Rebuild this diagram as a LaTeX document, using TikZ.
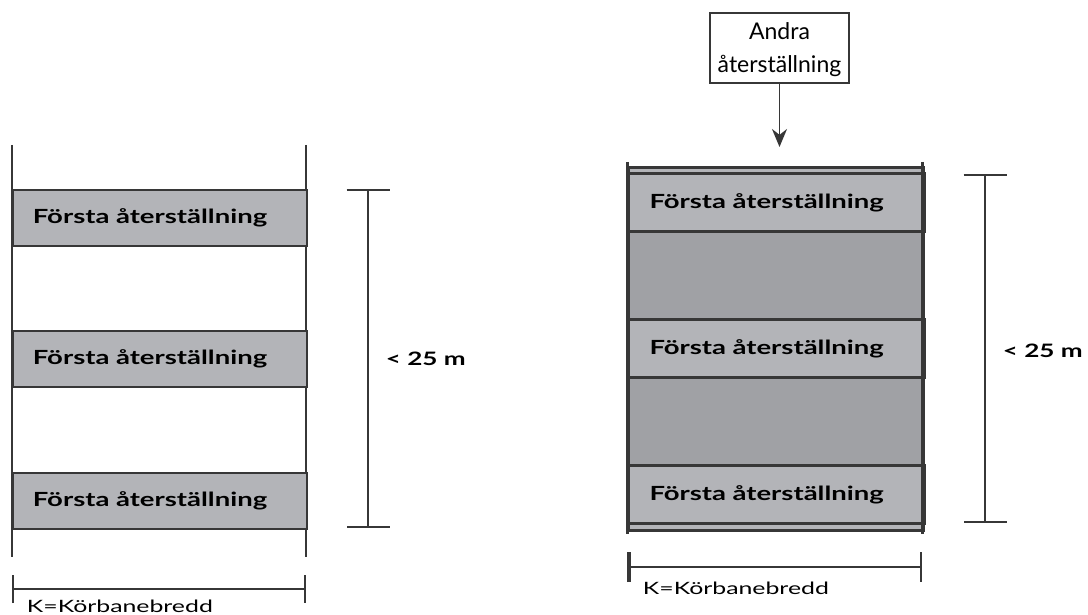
\documentclass[tikz,border=0pt]{standalone}
\usepackage{fontspec}
\setmainfont{Lato}
\newfontfamily\bandfont[FakeStretch=1.41]{Lato}
\newfontfamily\bredfont[FakeStretch=1.46]{Lato}
\usetikzlibrary{arrows.meta,positioning}
\definecolor{ljusgra}{RGB}{179,180,184}
\definecolor{morkgra}{RGB}{160,161,165}
\definecolor{linje}{RGB}{55,55,55}

\begin{document}
\begin{tikzpicture}[x=1pt,y=-1pt,>={Stealth[length=18pt,width=15pt]},
                    line width=1.8pt,draw=linje]
  \tikzstyle{band}=[anchor=north west,fill=ljusgra,draw=linje,minimum width=294pt,
                    text width=254pt,inner xsep=20pt,
                    font=\bandfont\bfseries\fontsize{19.5}{24}\selectfont]
  \tikzstyle{kant}=[draw=linje,line width=1.8pt]
  \tikzstyle{tjock}=[draw=linje,line width=3pt]
  \tikzstyle{matt}=[draw=linje,line width=2pt]
  \tikzstyle{langd}=[anchor=west,inner sep=0pt,font=\bandfont\bfseries\fontsize{18.5}{22}\selectfont]
  \tikzstyle{bredd}=[anchor=base west,inner sep=0pt,font=\bredfont\fontsize{17}{21}\selectfont]
  \useasboundingbox (0,0) rectangle (1088,615);

  % vänster: bara första återställning
  \draw[kant] (12,145) -- (12,557);
  \draw[kant] (306,145) -- (306,557);
  \foreach \y/\n in {189/1,330/2,472/3}
    \node[band,kant,minimum height=56pt] (v\n) at (12,\y) {Första återställning};

  \coordinate (vh1) at (368,189);
  \coordinate (vh2) at (368,528);
  \draw[matt,{Bar[width=43pt]}-{Bar[width=43pt]}] (vh1) -- (vh2);
  \node[langd] (vl) at (385,359) {< 25 m};

  \coordinate (vb1) at (12,589);
  \coordinate (vb2) at (306,589);
  \draw[matt,{Bar[width=28pt]}-{Bar[width=28pt]}] (vb1) -- (vb2);
  \node[bredd] (vk) at (26,612) {K=Körbanebredd};

  % höger: andra återställning över hela ytan
  \node[band,tjock,minimum width=295pt,minimum height=6pt] (ht) at (627,166) {};
  \node[band,tjock,minimum width=295pt,minimum height=6pt] (hb) at (627,522) {};
  \foreach \y/\n in {172/1,318/2,464/3}
    \node[band,tjock,minimum width=295pt,minimum height=58pt,inner xsep=21pt] (h\n) at (627,\y) {Första återställning};
  \foreach \y/\n in {230/1,376/2}
    \node[band,tjock,minimum width=295pt,fill=morkgra,minimum height=88pt] (m\n) at (627,\y) {};
  \draw[tjock] (627,162) -- (627,534);
  \draw[tjock] (922,162) -- (922,534);

  \node[draw=linje,line width=2.2pt,fill=white,minimum width=139pt,minimum height=70pt,
        align=center,text depth=0pt,font=\fontsize{23}{33}\selectfont] (andra) at (779.5,48) {Andra\\återställning};
  \coordinate (mal) at (779.5,147);
  \draw[->,line width=1.8pt] (andra) -- (mal);

  \coordinate (hh1) at (985,174);
  \coordinate (hh2) at (985,523);
  \draw[matt,{Bar[width=43pt]}-{Bar[width=43pt]}] (hh1) -- (hh2);
  \node[langd] (hl) at (1002,351) {< 25 m};

  \coordinate (hb1) at (627,567);
  \coordinate (hb2) at (922,567);
  \draw[matt,{Bar[width=30pt,line width=4pt]}-{Bar[width=30pt]}] (hb1) -- (hb2);
  \node[bredd] (hk) at (642,594) {K=Körbanebredd};
\end{tikzpicture}
\end{document}
